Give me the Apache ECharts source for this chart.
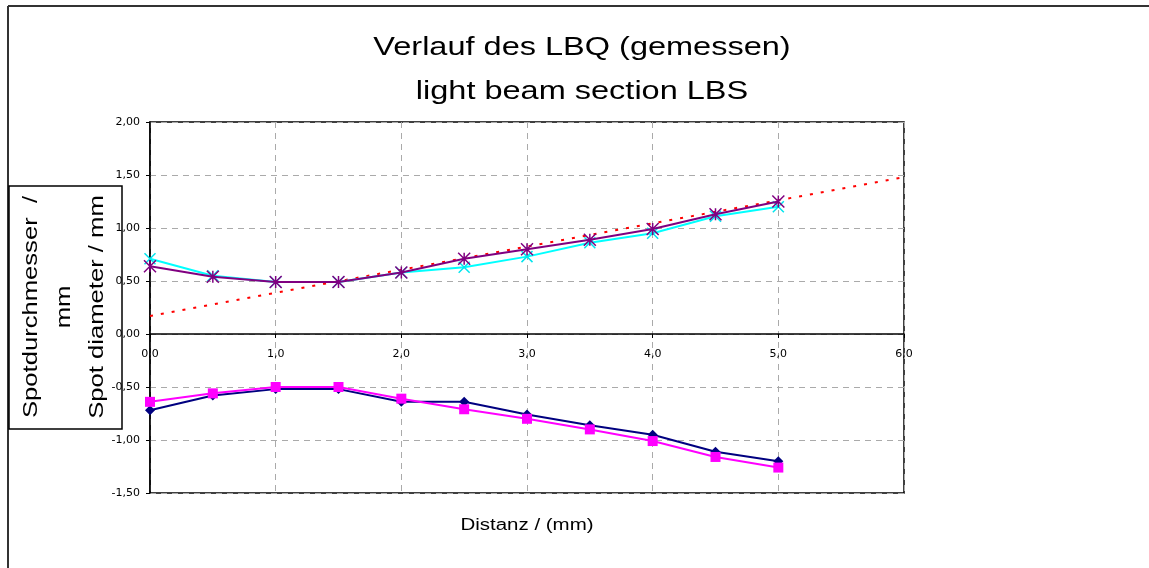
<!DOCTYPE html>
<html>
<head>
<meta charset="utf-8">
<script src="https://cdn.jsdelivr.net/npm/echarts@6/dist/echarts.min.js"></script>
<style>
html,body{margin:0;padding:0;background:#fff;}
#chart{width:1149px;height:568px;}
</style>
</head>
<body>
<div id="chart"></div>
<script>
// Data
const distances = [0, 0.5, 1.0, 1.5, 2.0, 2.5, 3.0, 3.5, 4.0, 4.5, 5.0];
const upperPurple = [0.64, 0.54, 0.49, 0.49, 0.58, 0.71, 0.80, 0.89, 0.99, 1.13, 1.25];
const upperCyan   = [0.71, 0.55, 0.49, 0.49, 0.58, 0.63, 0.73, 0.86, 0.95, 1.11, 1.20];
const lowerNavy   = [-0.72, -0.58, -0.52, -0.52, -0.64, -0.64, -0.76, -0.86, -0.95, -1.11, -1.20];
const lowerMagenta= [-0.64, -0.56, -0.50, -0.50, -0.61, -0.71, -0.80, -0.90, -1.01, -1.16, -1.26];
const trendX = [0, 6];
const trendY = [0.17, 1.48];
const titleLines = ['Verlauf des LBQ (gemessen)', 'light beam section LBS'];
const yTitleLines = ['Spotdurchmesser  /', 'mm', 'Spot diameter / mm'];
const xTitle = 'Distanz / (mm)';
const yMin = -1.5, yMax = 2, yStep = 0.5;
const xMin = 0, xMax = 6, xStep = 1;

const pair = (xs, ys) => xs.map((x, i) => [x, ys[i]]);
const FONT = 'Liberation Sans, Arial, sans-serif';
const TICKFONT = 'DejaVu Sans, Verdana, sans-serif';

const W = 1149, H = 568;
const G = {left: 150, right: 245, top: 122, bottom: 75};
const gridH = H - G.top - G.bottom;
const zeroFromBottom = gridH * (0 - yMin) / (yMax - yMin);

const chart = echarts.init(document.getElementById('chart'), null, {renderer: 'canvas'});
const starPath = 'path://M0,0L10,10M10,0L0,10M5,0L5,10';
const xPath = 'path://M0,0L10,10M10,0L0,10';

chart.setOption({
  animation: false,
  backgroundColor: '#fff',
  grid: Object.assign({show: true, borderColor: '#000', borderWidth: 1.5, backgroundColor: 'transparent'}, G),
  xAxis: {
    type: 'value', min: xMin, max: xMax, interval: xStep, position: 'bottom', offset: -zeroFromBottom,
    axisLine: {onZero: false, lineStyle: {color: '#000', width: 1.5}},
    axisTick: {show: true, length: 4, lineStyle: {color: '#000'}},
    axisLabel: {margin: 15, fontSize: 11, color: '#000', fontFamily: TICKFONT,
      formatter: v => v.toFixed(1).replace('.', ',')},
    splitLine: {show: true, lineStyle: {color: '#aaa', type: [6, 5], width: 1}}
  },
  yAxis: {
    type: 'value', min: yMin, max: yMax, interval: yStep,
    axisLine: {show: true, onZero: false, lineStyle: {color: '#000', width: 1.5}},
    axisTick: {show: true, length: 4, lineStyle: {color: '#000'}},
    axisLabel: {margin: 10, fontSize: 11, color: '#000', fontFamily: TICKFONT,
      formatter: v => v.toFixed(2).replace('.', ',')},
    splitLine: {show: true, lineStyle: {color: '#aaa', type: [6, 5], width: 1}}
  },
  series: [
    {type: 'line', data: pair(trendX, trendY), symbol: 'none', z: 1,
      lineStyle: {color: '#ff0000', width: 2, type: [3, 8]}},
    {type: 'line', data: pair(distances, lowerNavy), symbol: 'diamond', symbolSize: 10, z: 2,
      lineStyle: {color: '#000080', width: 2}, itemStyle: {color: '#000080'}},
    {type: 'line', data: pair(distances, lowerMagenta), symbol: 'rect', symbolSize: 10, z: 3,
      lineStyle: {color: '#ff00ff', width: 2}, itemStyle: {color: '#ff00ff'}},
    {type: 'line', data: pair(distances, upperCyan), symbol: xPath, symbolSize: 11, z: 2,
      lineStyle: {color: '#00ffff', width: 2}, itemStyle: {color: '#00ffff', borderColor: '#00e5ee', borderWidth: 1.5}},
    {type: 'line', data: pair(distances, upperPurple), symbol: starPath, symbolSize: 12, z: 3,
      lineStyle: {color: '#800080', width: 2}, itemStyle: {color: '#800080', borderColor: '#800080', borderWidth: 1.5}}
  ],
  graphic: [
    {type: 'line', shape: {x1: 8, y1: 6, x2: W, y2: 6}, style: {stroke: '#333', lineWidth: 2}, z: 10},
    {type: 'line', shape: {x1: 8, y1: 6, x2: 8, y2: H}, style: {stroke: '#333', lineWidth: 2}, z: 10},
    {type: 'text', x: 582, y: 70, scaleX: 1.25, z: 10, style: {text: titleLines.join('\n'), font: 'normal 26px ' + FONT,
      fill: '#000', textAlign: 'center', verticalAlign: 'middle', lineHeight: 44}},
    {type: 'text', x: 527, y: 526, scaleX: 1.28, z: 10, style: {text: xTitle, font: 'normal 16px ' + FONT,
      fill: '#000', textAlign: 'center', verticalAlign: 'middle'}},
    {type: 'rect', shape: {x: 9, y: 186, width: 113, height: 243}, z: 20,
      style: {fill: 'none', stroke: '#000', lineWidth: 1.5}},
    {type: 'text', x: 64, y: 307, rotation: Math.PI / 2, scaleX: 1.22, z: 21, style: {text: yTitleLines.join('\n'),
      font: 'normal 21px ' + FONT, fill: '#000', textAlign: 'center', verticalAlign: 'middle', lineHeight: 33}}
  ]
});
</script>
</body>
</html>
